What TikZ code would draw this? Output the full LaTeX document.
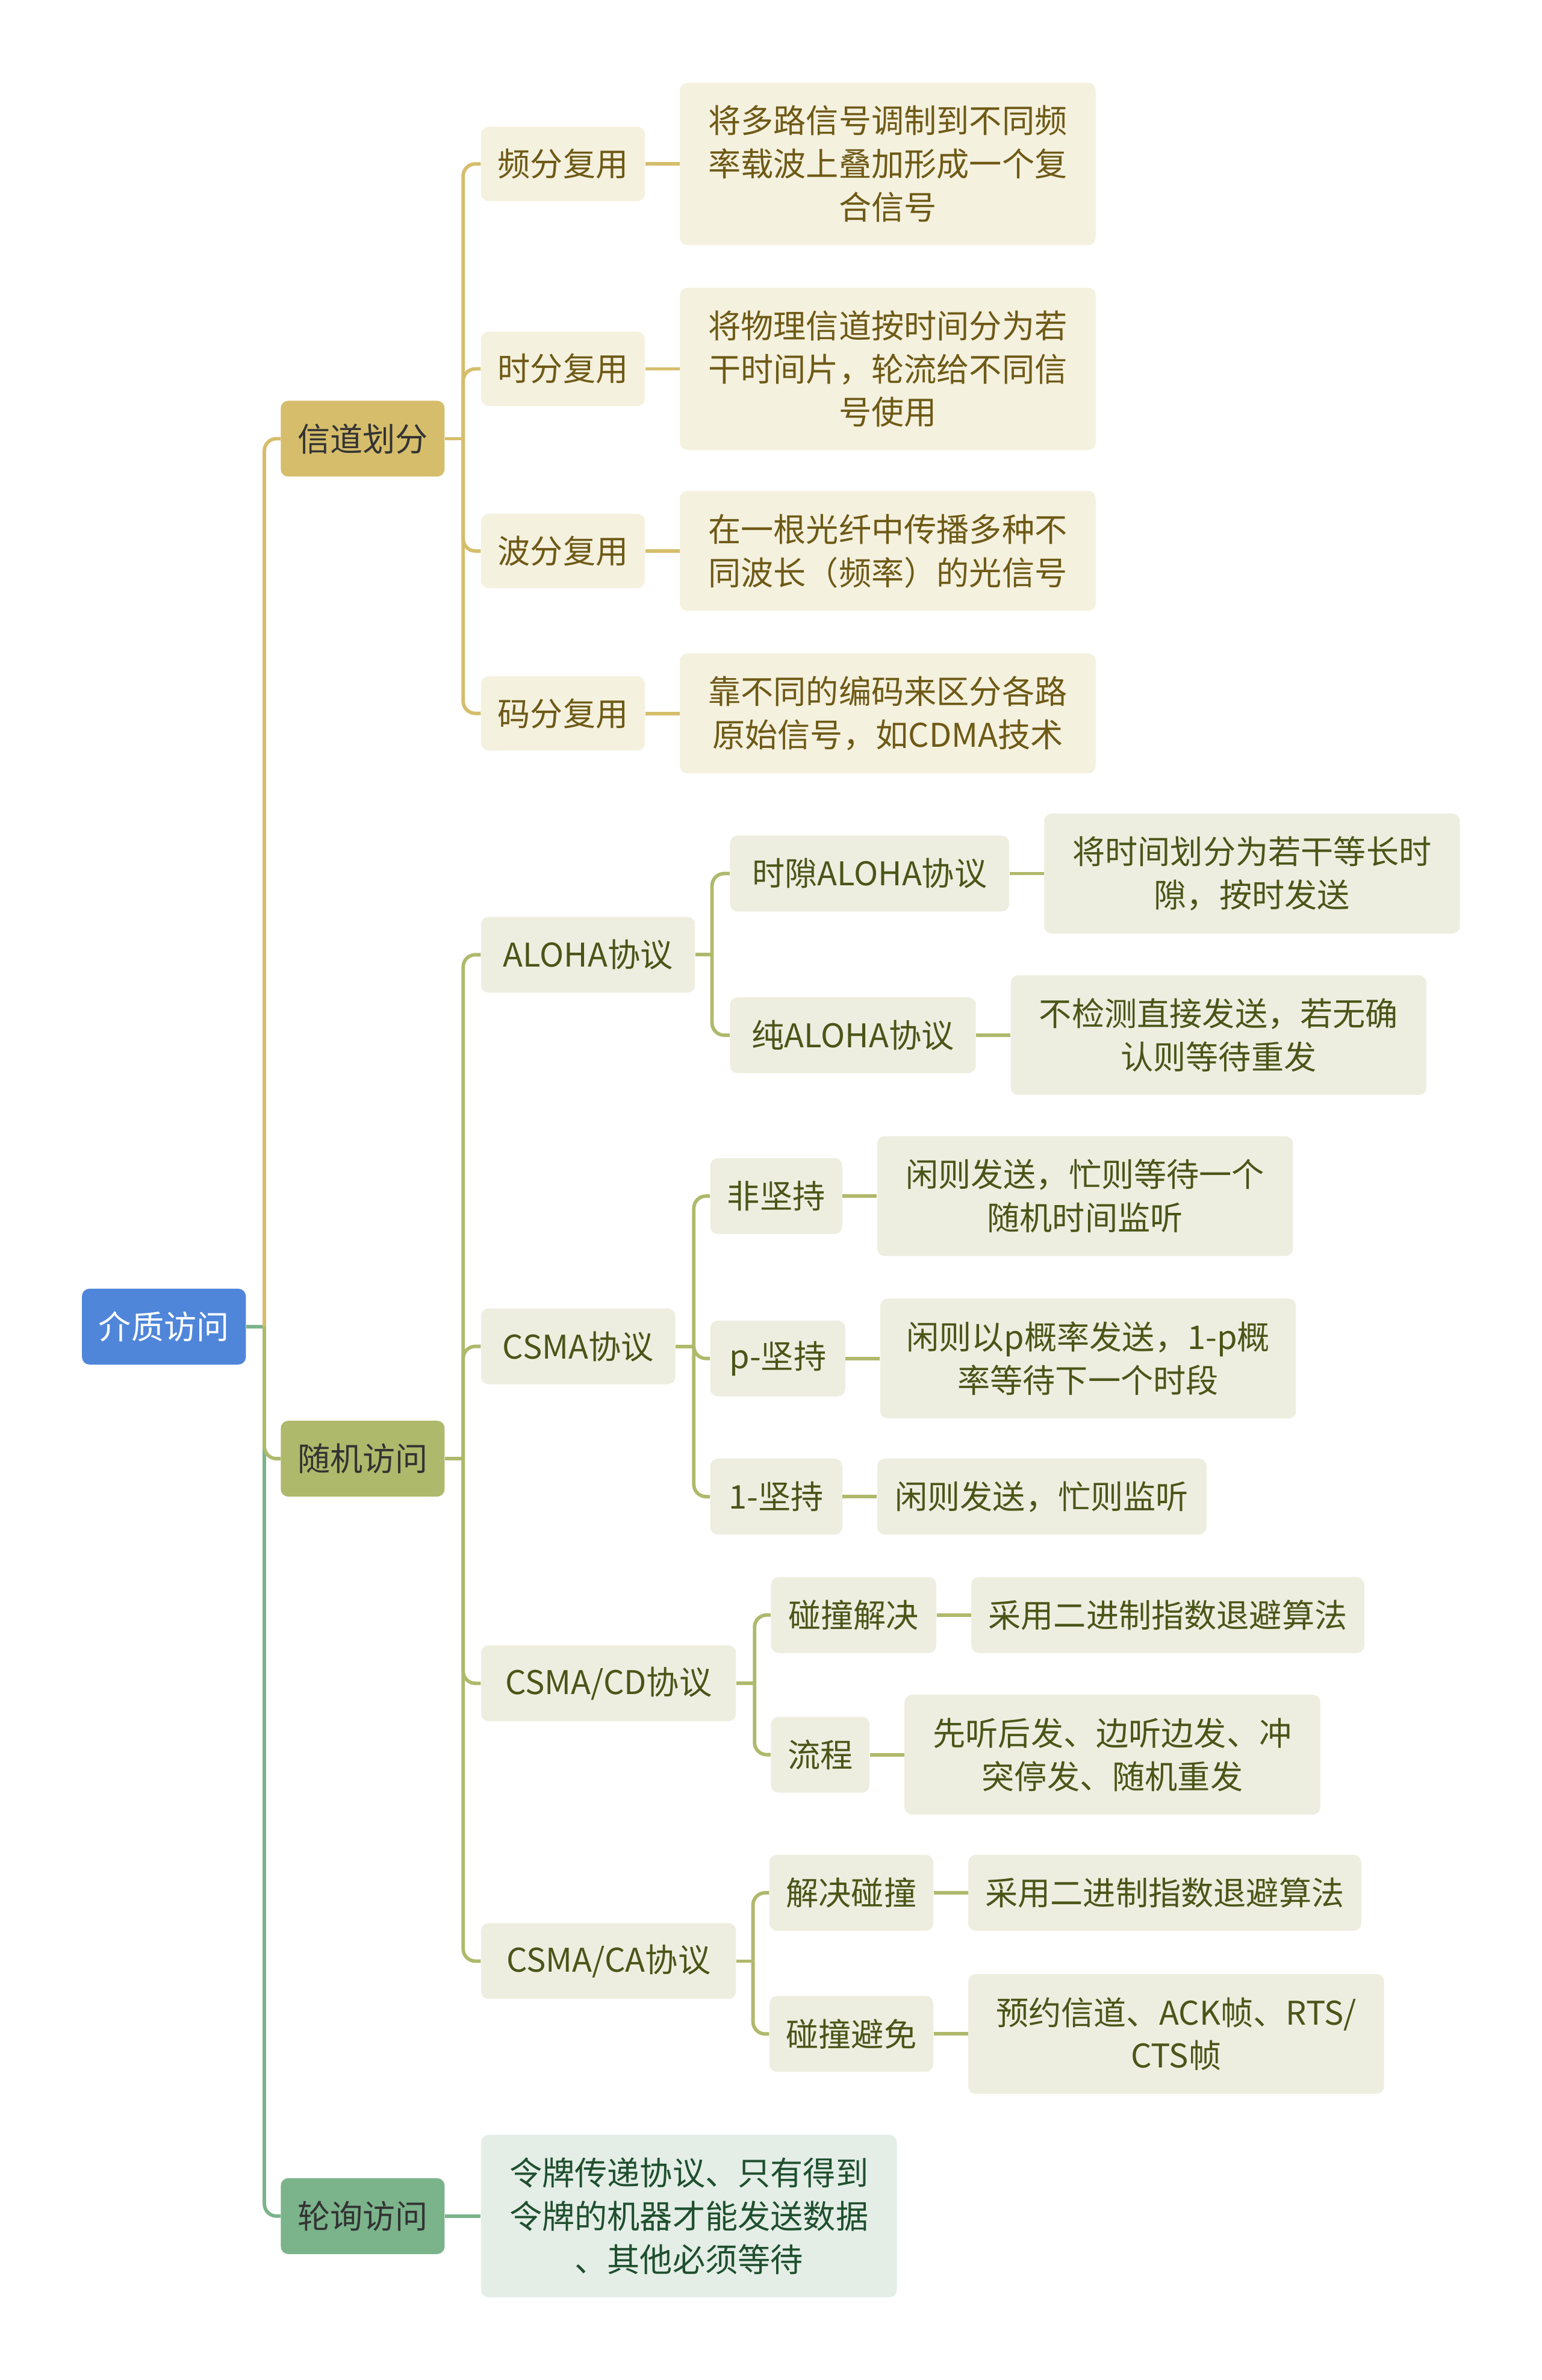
\documentclass[tikz,border=0pt]{standalone}
\usepackage{fontspec}
\setmainfont{Noto Sans CJK SC}
\definecolor{rootc}{HTML}{4F86DA}
\definecolor{goldc}{HTML}{D5BD6B}
\definecolor{olivec}{HTML}{AFB96B}
\definecolor{greenc}{HTML}{7BB38B}
\definecolor{goldfill}{HTML}{F5F1DF}
\definecolor{goldtext}{HTML}{6E5A16}
\definecolor{olivefill}{HTML}{EEEEE0}
\definecolor{olivetext}{HTML}{4A5518}
\definecolor{greenfill}{HTML}{E4EEE7}
\definecolor{greentext}{HTML}{1F4F2E}
\definecolor{darktext}{HTML}{333333}
\begin{document}
\begin{tikzpicture}[x=1pt,y=-1pt,
  box/.style={rounded corners=5pt, inner sep=0pt, align=center,
    font=\fontsize{21.5}{28.5}\selectfont, minimum height=50},
  gbox/.style={box, fill=goldfill, text=goldtext},
  obox/.style={box, fill=olivefill, text=olivetext},
  grbox/.style={box, fill=greenfill, text=greentext},
  conn/.style={line width=2.3pt},
  elbow/.style={conn, rounded corners=8pt}]
\useasboundingbox (0,0) rectangle (1016,1568);
\fill[white] (0,0) rectangle (1016,1568);

% connectors are drawn first, boxes on top
\begin{scope}[every node/.style={}]
\end{scope}

% root and level 1
\node[box, fill=rootc, text=white, minimum width=108] (root) at (108,874) {介质访问};
\node[box, fill=goldc, text=darktext, minimum width=108] (xd) at (239,289) {信道划分};
\node[box, fill=olivec, text=darktext, minimum width=108] (sj) at (239,961) {随机访问};
\node[box, fill=greenc, text=darktext, minimum width=108] (lx) at (239,1460) {轮询访问};

% channel partition
\node[gbox, minimum width=108, minimum height=49] (fdm) at (371,108) {频分复用};
\node[gbox, minimum width=108, minimum height=49] (tdm) at (371,243) {时分复用};
\node[gbox, minimum width=108, minimum height=49] (wdm) at (371,363) {波分复用};
\node[gbox, minimum width=108, minimum height=49] (cdm) at (371,470) {码分复用};
\node[gbox, minimum width=274, minimum height=107] (fdml) at (585,108) {将多路信号调制到不同频\\率载波上叠加形成一个复\\合信号};
\node[gbox, minimum width=274, minimum height=107] (tdml) at (585,243) {将物理信道按时间分为若\\干时间片，轮流给不同信\\号使用};
\node[gbox, minimum width=274, minimum height=79] (wdml) at (585,363) {在一根光纤中传播多种不\\同波长（频率）的光信号};
\node[gbox, minimum width=274, minimum height=79] (cdml) at (585,470) {靠不同的编码来区分各路\\原始信号，如CDMA技术};

% random access
\node[obox, minimum width=141] (aloha) at (387.5,629) {ALOHA协议};
\node[obox, minimum width=128] (csma) at (381,887) {CSMA协议};
\node[obox, minimum width=168] (cd) at (401,1109) {CSMA/CD协议};
\node[obox, minimum width=168] (ca) at (401,1292) {CSMA/CA协议};

\node[obox, minimum width=184] (sa) at (573,575.5) {时隙ALOHA协议};
\node[obox, minimum width=274, minimum height=79] (sal) at (825,575.5) {将时间划分为若干等长时\\隙，按时发送};
\node[obox, minimum width=162] (pa) at (562,682) {纯ALOHA协议};
\node[obox, minimum width=274, minimum height=79] (pal) at (803,682) {不检测直接发送，若无确\\认则等待重发};

\node[obox, minimum width=87] (np) at (511.5,788) {非坚持};
\node[obox, minimum width=274, minimum height=79] (npl) at (715,788) {闲则发送，忙则等待一个\\随机时间监听};
\node[obox, minimum width=89] (pp) at (512.5,895) {p-坚持};
\node[obox, minimum width=274, minimum height=79] (ppl) at (717,895) {闲则以p概率发送，1-p概\\率等待下一个时段};
\node[obox, minimum width=87] (op) at (511.5,986) {1-坚持};
\node[obox, minimum width=217] (opl) at (686.5,986) {闲则发送，忙则监听};

\node[obox, minimum width=109] (cdr) at (562.5,1064) {碰撞解决};
\node[obox, minimum width=259] (cdrl) at (769.5,1064) {采用二进制指数退避算法};
\node[obox, minimum width=65] (cdf) at (540.5,1156) {流程};
\node[obox, minimum width=274, minimum height=79] (cdfl) at (733,1156) {先听后发、边听边发、冲\\突停发、随机重发};

\node[obox, minimum width=108] (car) at (561,1247) {解决碰撞};
\node[obox, minimum width=259] (carl) at (767.5,1247) {采用二进制指数退避算法};
\node[obox, minimum width=108] (caa) at (561,1340) {碰撞避免};
\node[obox, minimum width=274, minimum height=79] (caal) at (775,1340) {预约信道、ACK帧、RTS/\\CTS帧};

% polling
\node[grbox, minimum width=274, minimum height=107] (lxl) at (454,1460) {令牌传递协议、只有得到\\令牌的机器才能发送数据\\、其他必须等待};

% connectors: root
\draw[conn, greenc] (root.east) -- ++(12,0) coordinate (rb);
\draw[elbow, goldc] (rb) |- (xd.west);
\draw[elbow, greenc] (rb) |- (lx.west);
\draw[elbow, olivec] (rb) |- (sj.west);

% channel partition
\draw[conn, goldc] (xd.east) -- ++(12,0) coordinate (xb);
\foreach \c in {fdm,tdm,wdm,cdm} \draw[elbow, goldc] (xb) |- (\c.west);
\draw[conn, goldc] (fdm.east) -- (fdml.west);
\draw[conn, goldc] (tdm.east) -- (tdml.west);
\draw[conn, goldc] (wdm.east) -- (wdml.west);
\draw[conn, goldc] (cdm.east) -- (cdml.west);

% random access
\draw[conn, olivec] (sj.east) -- ++(12,0) coordinate (sb);
\foreach \c in {aloha,csma,cd,ca} \draw[elbow, olivec] (sb) |- (\c.west);

\draw[conn, olivec] (aloha.east) -- ++(11,0) coordinate (ab);
\foreach \c in {sa,pa} \draw[elbow, olivec] (ab) |- (\c.west);
\draw[conn, olivec] (sa.east) -- (sal.west);
\draw[conn, olivec] (pa.east) -- (pal.west);

\draw[conn, olivec] (csma.east) -- ++(12,0) coordinate (cb);
\foreach \c in {np,pp,op} \draw[elbow, olivec] (cb) |- (\c.west);
\draw[conn, olivec] (np.east) -- (npl.west);
\draw[conn, olivec] (pp.east) -- (ppl.west);
\draw[conn, olivec] (op.east) -- (opl.west);

\draw[conn, olivec] (cd.east) -- ++(12,0) coordinate (db);
\foreach \c in {cdr,cdf} \draw[elbow, olivec] (db) |- (\c.west);
\draw[conn, olivec] (cdr.east) -- (cdrl.west);
\draw[conn, olivec] (cdf.east) -- (cdfl.west);

\draw[conn, olivec] (ca.east) -- ++(11,0) coordinate (eb);
\foreach \c in {car,caa} \draw[elbow, olivec] (eb) |- (\c.west);
\draw[conn, olivec] (car.east) -- (carl.west);
\draw[conn, olivec] (caa.east) -- (caal.west);

% polling
\draw[conn, greenc] (lx.east) -- (lxl.west);
\end{tikzpicture}
\end{document}
